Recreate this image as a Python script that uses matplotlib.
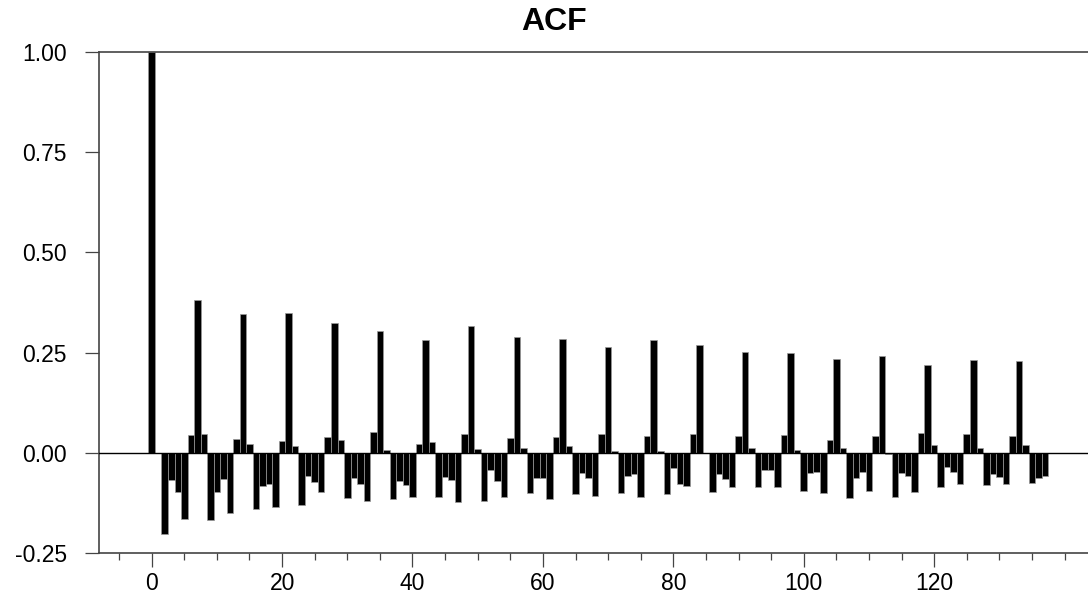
import matplotlib
matplotlib.use("Agg")
import matplotlib.pyplot as plt
from matplotlib.ticker import MultipleLocator

title = "ACF"
acf_values = [
    1.000, 0.000, -0.203, -0.069, -0.097, -0.165, 0.045, 0.380, 0.047, -0.167,
    -0.097, -0.065, -0.150, 0.035, 0.346, 0.022, -0.140, -0.084, -0.077, -0.136,
    0.029, 0.348, 0.017, -0.130, -0.057, -0.073, -0.099, 0.040, 0.324, 0.032,
    -0.113, -0.063, -0.077, -0.120, 0.051, 0.303, 0.006, -0.116, -0.071, -0.080,
    -0.110, 0.022, 0.282, 0.027, -0.111, -0.061, -0.067, -0.124, 0.047, 0.316,
    0.010, -0.120, -0.043, -0.070, -0.111, 0.038, 0.289, 0.012, -0.100, -0.063,
    -0.063, -0.116, 0.039, 0.283, 0.017, -0.102, -0.051, -0.062, -0.109, 0.047,
    0.263, 0.004, -0.100, -0.057, -0.052, -0.110, 0.042, 0.282, 0.004, -0.103,
    -0.037, -0.078, -0.084, 0.046, 0.269, 0.000, -0.099, -0.053, -0.066, -0.085,
    0.043, 0.251, 0.013, -0.086, -0.042, -0.042, -0.086, 0.044, 0.248, 0.008,
    -0.096, -0.051, -0.047, -0.101, 0.032, 0.234, 0.011, -0.112, -0.062, -0.048,
    -0.096, 0.041, 0.242, -0.002, -0.110, -0.050, -0.057, -0.099, 0.049, 0.218,
    0.020, -0.085, -0.036, -0.047, -0.078, 0.047, 0.232, 0.012, -0.081, -0.052,
    -0.061, -0.077, 0.043, 0.229, 0.019, -0.076, -0.064, -0.059,
]
lags = list(range(len(acf_values)))
x_ticks = [0, 20, 40, 60, 80, 100, 120]
y_ticks = [-0.25, 0.00, 0.25, 0.50, 0.75, 1.00]

plt.rcParams['font.family'] = ['Liberation Sans', 'DejaVu Sans']

W, H = 1088, 596
fig = plt.figure(figsize=(W / 100, H / 100), dpi=100)
ax = fig.add_axes([99 / W, (H - 553) / H, (W - 99) / W, (553 - 52) / H])

ax.bar(lags, acf_values, width=1.0, color='black', edgecolor='#9a9a9a',
       linewidth=0.5, zorder=2)
ax.axhline(0, color='black', linewidth=1.0, zorder=3)

ax.set_xlim(-8.08, 143.6)
ax.set_ylim(-0.25, 1.0)

ax.set_xticks(x_ticks)
ax.set_xticklabels([str(v) for v in x_ticks])
ax.xaxis.set_minor_locator(MultipleLocator(5))
ax.set_yticks(y_ticks)
ax.set_yticklabels([f"{v:.2f}" for v in y_ticks])

ax.tick_params(axis='both', which='major', direction='out', length=10,
               width=0.9, color='#444444', labelsize=16.5, labelcolor='black')
ax.tick_params(axis='x', which='major', pad=4)
ax.tick_params(axis='y', which='major', pad=13)
ax.tick_params(axis='x', which='minor', direction='out', length=5,
               width=0.9, color='#444444')

for side in ['left', 'bottom', 'top']:
    ax.spines[side].set_color('#444444')
    ax.spines[side].set_linewidth(1.2)
ax.spines['right'].set_visible(False)

fig.text(554 / W, 1 - 22 / H, title, ha='center', va='center',
         fontsize=23, fontweight='bold')

fig.savefig("out.png", dpi=100)
